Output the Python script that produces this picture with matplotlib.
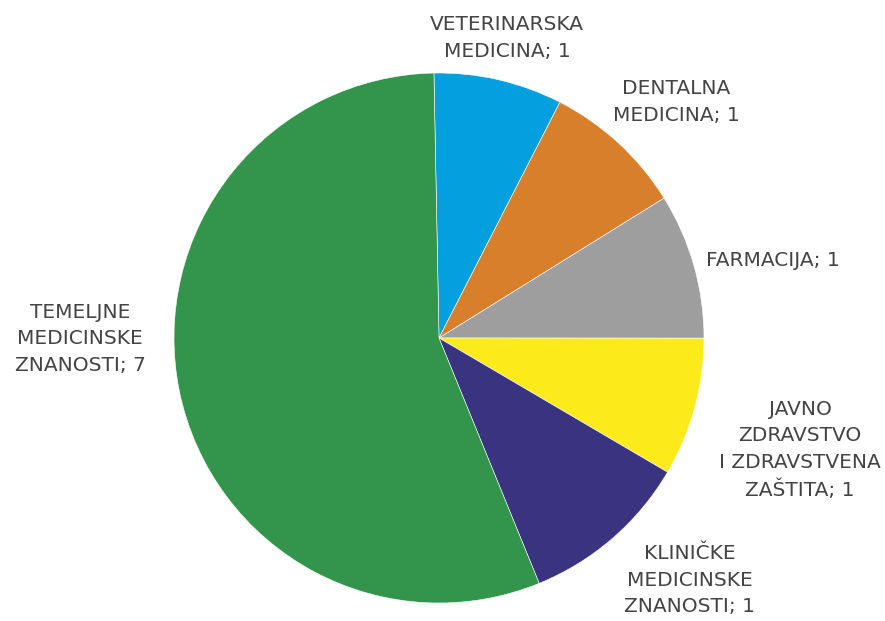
import matplotlib
matplotlib.use("Agg")
import matplotlib.pyplot as plt

categories = ["VETERINARSKA\nMEDICINA", "DENTALNA\nMEDICINA", "FARMACIJA",
              "JAVNO\nZDRAVSTVO\nI ZDRAVSTVENA\nZAŠTITA", "KLINIČKE\nMEDICINSKE\nZNANOSTI",
              "TEMELJNE\nMEDICINSKE\nZNANOSTI"]
label_values = [1, 1, 1, 1, 1, 7]
# slice shares as drawn in the picture
shares = [0.93, 1.02, 1.05, 1.0, 1.23, 6.62]
colors = ["#049FDF", "#D77F2B", "#9E9E9E", "#FDEA1A", "#3A3480", "#33954B"]

W, H = 885, 621
fig = plt.figure(figsize=(W / 100, H / 100), dpi=100)
ax = fig.add_axes([0, 0, 1, 1])

cx, cy, r = 439, H - 338, 265
ax.pie(shares, colors=colors, startangle=91.1, counterclock=False,
       center=(cx, cy), radius=r, frame=True,
       wedgeprops=dict(edgecolor="white", linewidth=0.4))
ax.set_xlim(0, W)
ax.set_ylim(0, H)
ax.set_aspect("equal")
ax.axis("off")

label_pos = [(507, 38), (676, 102), (773, 260), (800, 450), (690, 580), (80, 339)]
for cat, v, (x, y) in zip(categories, label_values, label_pos):
    ax.text(x, H - y, f"{cat}; {v}", ha="center", va="center", fontsize=14.5,
            color="#444444", linespacing=1.5, family="DejaVu Sans")

fig.savefig("out.png", dpi=100)
